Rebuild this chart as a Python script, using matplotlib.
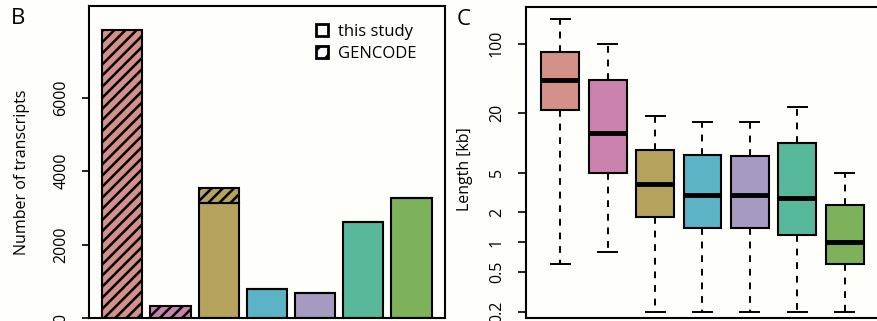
import matplotlib
matplotlib.use("Agg")
import matplotlib.pyplot as plt
from matplotlib.patches import Patch

plt.rcParams['font.family'] = ['Open Sans', 'DejaVu Sans']
plt.rcParams['hatch.linewidth'] = 1.8

# ---- data ----
categories = ["c1", "c2", "c3", "c4", "c5", "c6", "c7"]
colors = ["#D4918A", "#CC82AF", "#B5A35C", "#5AB4C5", "#A79AC2", "#58B89B", "#7EB25A"]
this_study = [0, 0, 3120, 780, 690, 2600, 3265]
gencode = [7840, 320, 426, 0, 0, 0, 0]

whis_hi = [176, 99, 18.7, 16.4, 16.4, 23.2, 5.0]
q3 = [83, 43, 8.5, 7.6, 7.4, 10.1, 2.38]
medians = [43, 12.5, 3.84, 3.0, 3.0, 2.81, 1.0]
q1 = [21.5, 5.0, 1.79, 1.38, 1.38, 1.18, 0.6]
whis_lo = [0.6, 0.8, 0.2, 0.2, 0.2, 0.2, 0.2]

left_ticks = [0, 2000, 4000, 6000]
right_ticks = [0.2, 0.5, 1, 2, 5, 20, 100]
right_ticklabels = ["0.2", "0.5", "1", "2", "5", "20", "100"]

W, H = 878, 321
bg = "#fefefa"
fig = plt.figure(figsize=(W / 100, H / 100), dpi=100, facecolor=bg)

def fx(px):
    return px / W

def fy(py):
    return 1 - py / H

# ---- left panel: stacked bar ----
axL = fig.add_axes([fx(89), fy(318), fx(444.8) - fx(89), fy(6) - fy(318)])
axL.set_facecolor(bg)
xs = [0.7 + 1.2 * i for i in range(len(categories))]
axL.bar(xs, this_study, width=1.0, color=colors, edgecolor="black", linewidth=1.5)
axL.bar(xs, gencode, width=1.0, bottom=this_study, color=colors, edgecolor="black",
        linewidth=1.5, hatch="///")
axL.set_xlim(-0.128, 8.728)
axL.set_ylim(0, 8490)
axL.set_xticks([])
axL.set_yticks(left_ticks)
axL.set_yticklabels([str(t) for t in left_ticks])
axL.tick_params(axis="y", labelrotation=90, length=5, width=1.2, pad=9, labelsize=11.5)
for lab in axL.get_yticklabels():
    lab.set_va("center")
for s in axL.spines.values():
    s.set_linewidth(1.5)

handles = [Patch(facecolor="white", edgecolor="black", linewidth=2.0),
           Patch(facecolor="white", edgecolor="black", linewidth=2.0, hatch="//")]
leg = axL.legend(handles, ["this study", "GENCODE"], loc="upper left",
                 bbox_to_anchor=(fx(316), fy(24)), bbox_transform=fig.transFigure,
                 frameon=False, handlelength=0.7, handleheight=0.7, handletextpad=0.6,
                 labelspacing=0.35, borderpad=0, borderaxespad=0, fontsize=12)

fig.text(fx(22), fy(172), "Number of transcripts", rotation=90, ha="center", va="center",
         fontsize=11.5)
fig.text(fx(18), fy(18), "B", ha="center", va="center", fontsize=16)

# ---- right panel: boxplot ----
axR = fig.add_axes([fx(525.7), fy(317.5), fx(879.3) - fx(525.7), fy(7.3) - fy(317.5)])
axR.set_facecolor(bg)
stats = []
for i in range(len(categories)):
    stats.append(dict(med=medians[i], q1=q1[i], q3=q3[i], whislo=whis_lo[i],
                      whishi=whis_hi[i], fliers=[], label=categories[i]))
bp = axR.bxp(stats, positions=list(range(1, len(categories) + 1)), widths=0.8,
             capwidths=0.4, patch_artist=True, showfliers=False,
             boxprops=dict(edgecolor="black", linewidth=1.5),
             medianprops=dict(color="black", linewidth=3.5, solid_capstyle="butt"),
             whiskerprops=dict(color="black", linewidth=1.4, linestyle=(0, (3.5, 3.5))),
             capprops=dict(color="black", linewidth=1.4))
for patch, c in zip(bp["boxes"], colors):
    patch.set_facecolor(c)
axR.set_yscale("log")
axR.set_ylim(0.175, 232.6)
axR.set_xlim(0.27, 7.73)
axR.set_xticks([])
axR.set_yticks(right_ticks)
axR.set_yticklabels(right_ticklabels)
axR.yaxis.set_minor_locator(matplotlib.ticker.NullLocator())
axR.tick_params(axis="y", labelrotation=90, length=6, width=1.2, pad=9, labelsize=11.5)
for lab in axR.get_yticklabels():
    lab.set_va("center")
for s in axR.spines.values():
    s.set_linewidth(1.5)

fig.text(fx(465), fy(169), "Length [kb]", rotation=90, ha="center", va="center",
         fontsize=11.5)
fig.text(fx(464), fy(19.5), "C", ha="center", va="center", fontsize=16)

fig.savefig("out.png", dpi=100, facecolor=bg)
